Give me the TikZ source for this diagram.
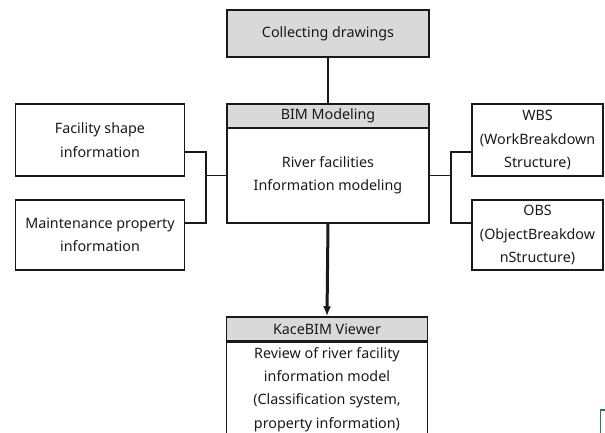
\documentclass[tikz,border=0pt]{standalone}
\usepackage{fontspec}
\setmainfont{Noto Sans}
\usetikzlibrary{arrows.meta}
\definecolor{hdr}{RGB}{217,217,217}
\definecolor{ink}{RGB}{25,25,25}
\definecolor{cellgreen}{RGB}{40,125,75}
\begin{document}
\begin{tikzpicture}[x=1pt,y=-1pt,
  box/.style={draw=ink, line width=1.5pt, rectangle, inner sep=0pt, align=center,
    font=\fontsize{14.3}{23.3}\selectfont, text=ink},
  hbox/.style={box, fill=hdr},
  link/.style={draw=ink, line width=1.5pt},
  flow/.style={draw=ink, line width=3pt, -{Latex[length=10pt,width=8pt]}}]
\useasboundingbox (0,0) rectangle (605,432);
% nodes
\node[hbox, minimum width=202pt, minimum height=47pt] (coll) at (328,33.5) {Collecting drawings};
\node[hbox, minimum width=202pt, minimum height=24pt] (bimh) at (328,116) {BIM Modeling};
\node[box, minimum width=202pt, minimum height=95pt] (bim) at (328,175.5) {River facilities\\Information modeling};
\node[box, minimum width=169pt, minimum height=72pt] (fac) at (100,140) {Facility shape\\information};
\node[box, minimum width=169pt, minimum height=70pt] (mnt) at (100,235) {Maintenance property\\information};
\node[box, minimum width=131pt, minimum height=72pt] (wbs) at (537.5,140) {WBS\\(WorkBreakdown\\Structure)};
\node[box, minimum width=131pt, minimum height=70pt] (obs) at (537.5,235) {OBS\\(ObjectBreakdow\\nStructure)};
\node[hbox, minimum width=201pt, minimum height=24pt] (kh) at (327,329) {KaceBIM Viewer};
\node[box, minimum width=201pt, minimum height=94pt, anchor=north] (kb) at (kh.south)
  {Review of river facility\\information model\\(Classification system,\\property information)};
% connectors
\coordinate (jl) at (206,175.5);
\coordinate (jr) at (451,175.5);
\draw[link] (coll.south) -- (bimh.north);
\draw[link] ([yshift=-12pt]fac.east) -| (jl) |- ([yshift=12pt]mnt.east);
\draw[link] (jl) -- (bim.west);
\draw[link] ([yshift=-12pt]wbs.west) -| (jr) |- ([yshift=12pt]obs.west);
\draw[link] (jr) -- (bim.east);
\draw[flow] (bim.south) -- (kh.north);
% cell-border fragment at lower right
\draw[cellgreen, line width=1.8pt] (606,410) -- (600.5,410) -- (600.5,433);
\end{tikzpicture}
\end{document}
